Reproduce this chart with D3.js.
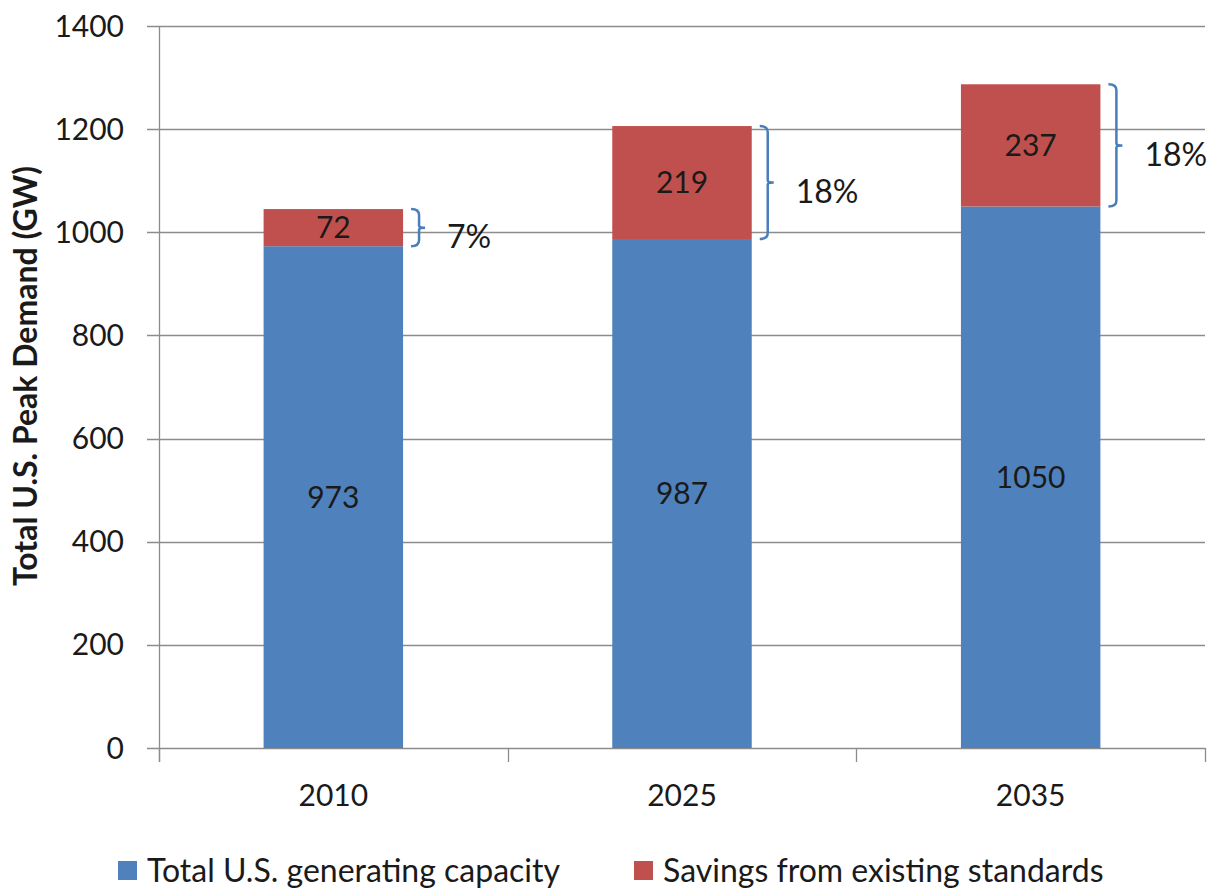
<!DOCTYPE html>
<html>
<head>
<meta charset="utf-8">
<script src="https://cdn.jsdelivr.net/npm/d3@7"></script>
<style>
  body { margin: 0; background: #fff; }
  text { font-family: Lato, "Open Sans", sans-serif; fill: #1a1a1a; }
</style>
</head>
<body>
<div id="chart"></div>
<script>
// Data
const years = ["2010", "2025", "2035"];
const capacity = [973, 987, 1050];
const savings = [72, 219, 237];
const shares = ["7%", "18%", "18%"];
const yTicks = [0, 200, 400, 600, 800, 1000, 1200, 1400];
const seriesNames = ["Total U.S. generating capacity", "Savings from existing standards"];
const colors = ["#4F81BD", "#C0504D"];

const W = 1213, H = 891;
const plot = {left: 159, right: 1205, top: 26, bottom: 748};

const svg = d3.select("#chart").append("svg")
    .attr("width", W)
    .attr("height", H);

const x = d3.scaleBand()
    .domain(years)
    .range([plot.left, plot.right])
    .paddingInner(0.6)
    .paddingOuter(0.3);

const y = d3.scaleLinear()
    .domain([0, 1400])
    .range([plot.bottom, plot.top]);

// gridlines
svg.append("g")
  .selectAll("line")
  .data(yTicks)
  .join("line")
    .attr("x1", plot.left - 12)
    .attr("x2", plot.right)
    .attr("y1", d => Math.round(y(d)) + 0.5)
    .attr("y2", d => Math.round(y(d)) + 0.5)
    .attr("stroke", "#8c8c8c")
    .attr("stroke-width", 1.3);

// y axis line + labels
svg.append("line")
    .attr("x1", plot.left + 0.5).attr("x2", plot.left + 0.5)
    .attr("y1", plot.top).attr("y2", plot.bottom + 14)
    .attr("stroke", "#8c8c8c").attr("stroke-width", 1.3);

svg.append("g")
  .selectAll("text")
  .data(yTicks)
  .join("text")
    .attr("x", plot.left - 35)
    .attr("y", d => y(d))
    .attr("dy", "0.35em")
    .attr("text-anchor", "end")
    .attr("font-size", 30)
    .text(d => d);

// x axis ticks at category boundaries
const bounds = d3.range(years.length + 1).map(i => plot.left + i * (plot.right - plot.left) / years.length);
svg.append("g")
  .selectAll("line")
  .data(bounds)
  .join("line")
    .attr("x1", d => Math.round(d) + 0.5)
    .attr("x2", d => Math.round(d) + 0.5)
    .attr("y1", plot.bottom)
    .attr("y2", plot.bottom + 14)
    .attr("stroke", "#8c8c8c").attr("stroke-width", 1.3);

svg.append("g")
  .selectAll("text")
  .data(years)
  .join("text")
    .attr("x", d => x(d) + x.bandwidth() / 2)
    .attr("y", plot.bottom + 47)
    .attr("dy", "0.35em")
    .attr("text-anchor", "middle")
    .attr("font-size", 30)
    .text(d => d);

// stacked bars
const rows = years.map((yr, i) => ({year: yr, cap: capacity[i], sav: savings[i], share: shares[i]}));

svg.append("g")
  .selectAll("rect")
  .data(rows)
  .join("rect")
    .attr("x", d => x(d.year))
    .attr("width", x.bandwidth())
    .attr("y", d => y(d.cap))
    .attr("height", d => y(0) - y(d.cap))
    .attr("fill", colors[0]);

svg.append("g")
  .selectAll("rect")
  .data(rows)
  .join("rect")
    .attr("x", d => x(d.year))
    .attr("width", x.bandwidth())
    .attr("y", d => y(d.cap + d.sav))
    .attr("height", d => y(d.cap) - y(d.cap + d.sav))
    .attr("fill", colors[1]);

// value labels
svg.append("g")
  .selectAll("text")
  .data(rows)
  .join("text")
    .attr("x", d => x(d.year) + x.bandwidth() / 2)
    .attr("y", d => y(d.cap / 2))
    .attr("dy", "0.35em")
    .attr("text-anchor", "middle")
    .attr("font-size", 30)
    .text(d => d.cap);

svg.append("g")
  .selectAll("text")
  .data(rows)
  .join("text")
    .attr("x", d => x(d.year) + x.bandwidth() / 2)
    .attr("y", d => y(d.cap + d.sav / 2))
    .attr("dy", "0.35em")
    .attr("text-anchor", "middle")
    .attr("font-size", 30)
    .text(d => d.sav);

// curly braces next to the savings segment
function brace(x0, y0, y1) {
  const r = 6, w = 8, tip = 12;
  const m = (y0 + y1) / 2;
  return `M${x0},${y0} Q${x0 + w},${y0} ${x0 + w},${y0 + r}` +
    ` L${x0 + w},${m - 2} Q${x0 + w},${m} ${x0 + tip + 2},${m}` +
    ` Q${x0 + w},${m} ${x0 + w},${m + 2}` +
    ` L${x0 + w},${y1 - r} Q${x0 + w},${y1} ${x0},${y1}`;
}

svg.append("g")
  .selectAll("path")
  .data(rows)
  .join("path")
    .attr("d", d => brace(x(d.year) + x.bandwidth() + 8, y(d.cap + d.sav), y(d.cap)))
    .attr("fill", "none")
    .attr("stroke", "#4A7EBB")
    .attr("stroke-width", 2.5);

svg.append("g")
  .selectAll("text")
  .data(rows)
  .join("text")
    .attr("x", d => x(d.year) + x.bandwidth() + 44)
    .attr("y", d => y(d.cap + d.sav / 2) + 9)
    .attr("dy", "0.35em")
    .attr("font-size", 32)
    .text(d => d.share);

// y axis title
svg.append("text")
    .attr("transform", `translate(26,376) rotate(-90)`)
    .attr("text-anchor", "middle")
    .attr("dy", "0.35em")
    .attr("font-size", 32)
    .attr("font-weight", "bold")
    .text("Total U.S. Peak Demand (GW)");

// legend
const legendX = [118, 634];
const legend = svg.append("g")
  .selectAll("g")
  .data(seriesNames)
  .join("g")
    .attr("transform", (d, i) => `translate(${legendX[i]},861)`);
legend.append("rect")
    .attr("width", 19).attr("height", 19)
    .attr("fill", (d, i) => colors[i]);
legend.append("text")
    .attr("x", 29)
    .attr("y", 10)
    .attr("dy", "0.35em")
    .attr("font-size", 32)
    .text(d => d);
</script>
</body>
</html>
